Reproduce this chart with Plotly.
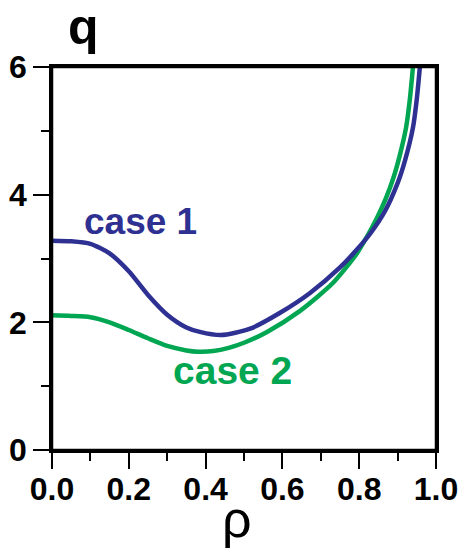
import plotly.graph_objects as go

rho_case1 = [0.0, 0.05, 0.10, 0.15, 0.20, 0.25, 0.30, 0.35, 0.385, 0.44, 0.516, 0.594, 0.672, 0.75, 0.794, 0.83, 0.867, 0.90, 0.919, 0.94, 0.95, 0.958]
q_case1 = [3.28, 3.27, 3.23, 3.08, 2.80, 2.43, 2.12, 1.92, 1.85, 1.80, 1.90, 2.15, 2.46, 2.86, 3.14, 3.40, 3.74, 4.18, 4.53, 5.05, 5.5, 6.0]

rho_case2 = [0.0, 0.05, 0.10, 0.15, 0.20, 0.25, 0.30, 0.35, 0.38, 0.42, 0.46, 0.50, 0.56, 0.646, 0.732, 0.794, 0.82, 0.845, 0.87, 0.89, 0.905, 0.922, 0.932, 0.94]
q_case2 = [2.11, 2.10, 2.08, 2.00, 1.88, 1.75, 1.63, 1.56, 1.54, 1.55, 1.60, 1.68, 1.85, 2.18, 2.62, 3.08, 3.34, 3.62, 3.95, 4.28, 4.6, 5.05, 5.5, 6.0]

x_ticks = [0.0, 0.2, 0.4, 0.6, 0.8, 1.0]
x_labels = ["0.0", "0.2", "0.4", "0.6", "0.8", "1.0"]
y_ticks = [0, 2, 4, 6]
y_labels = ["0", "2", "4", "6"]

BLUE = "#2e3192"
GREEN = "#00a651"
FONT = "Liberation Sans, Arial, Helvetica, sans-serif"

fig = go.Figure()
fig.add_trace(go.Scatter(x=rho_case2, y=q_case2, mode="lines",
                         line=dict(color=GREEN, width=4.5, shape="spline", smoothing=0.7),
                         showlegend=False, hoverinfo="skip"))
fig.add_trace(go.Scatter(x=rho_case1, y=q_case1, mode="lines",
                         line=dict(color=BLUE, width=4.5, shape="spline", smoothing=0.7),
                         showlegend=False, hoverinfo="skip"))

annotations = [
    dict(x=0.078, y=3.58, xref="x", yref="y", text="case 1", showarrow=False,
         xanchor="left", yanchor="middle",
         font=dict(family=FONT, size=37, color=BLUE, weight="bold")),
    dict(x=0.31, y=1.25, xref="x", yref="y", text="case 2", showarrow=False,
         xanchor="left", yanchor="middle",
         font=dict(family=FONT, size=39, color=GREEN, weight="bold")),
    dict(x=0.081, y=1.105, xref="paper", yref="paper", text="q", showarrow=False,
         xanchor="center", yanchor="middle",
         font=dict(family=FONT, size=50, color="black", weight="bold")),
    dict(x=0.482, y=-0.18, xref="paper", yref="paper", text="ρ", showarrow=False,
         xanchor="center", yanchor="middle",
         font=dict(family=FONT, size=52, color="black")),
]

fig.update_layout(
    width=458, height=548,
    margin=dict(l=52, r=22, t=67, b=98, autoexpand=False),
    paper_bgcolor="white", plot_bgcolor="white",
    annotations=annotations,
    shapes=[dict(type="rect", xref="paper", yref="paper", x0=0, x1=1, y0=0, y1=1,
                 line=dict(color="black", width=2.5), layer="above")],
)

common = dict(ticks="outside", ticklen=16, tickwidth=2, tickcolor="black",
              showline=True, linewidth=2.5, linecolor="black", mirror=True,
              showgrid=False, zeroline=False, automargin=False, ticklabeloverflow="allow",
              tickfont=dict(family=FONT, size=32, color="black", weight="bold"))

fig.update_xaxes(range=[0, 1], tickvals=x_ticks, ticktext=x_labels, ticklabelstandoff=-7, **common,
                 minor=dict(tickvals=[0.1, 0.3, 0.5, 0.7, 0.9], ticks="outside", ticklen=8,
                            tickwidth=1.5, tickcolor="black"))
fig.update_yaxes(range=[0, 6], tickvals=y_ticks, ticktext=y_labels, **common,
                 minor=dict(tickvals=[1, 3, 5], ticks="outside", ticklen=8,
                            tickwidth=1.5, tickcolor="black"))

fig.write_html("out.html", config={"displayModeBar": False},
               post_script="document.body.style.margin='0';document.body.style.padding='0';")
